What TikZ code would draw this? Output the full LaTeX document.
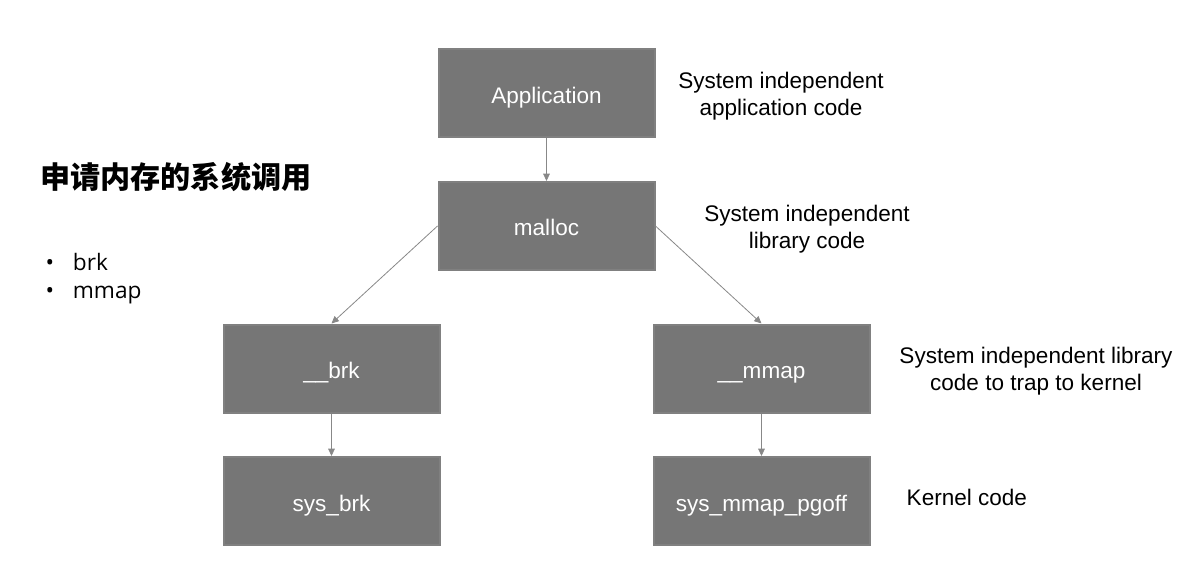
\documentclass[tikz,border=0pt]{standalone}
\usepackage{fontspec}
\setmainfont{Liberation Sans}
\newfontfamily\cjk{Noto Sans CJK SC}
\newfontfamily\listfont{Open Sans}
\usetikzlibrary{arrows.meta}

\definecolor{boxfill}{RGB}{118,118,118}
\definecolor{boxline}{RGB}{128,128,128}
\definecolor{linkgray}{RGB}{136,136,136}

\tikzset{
  callbox/.style={draw=boxline, line width=1.5pt, fill=boxfill, text=white,
    minimum width=162pt, minimum height=66pt, inner sep=0pt,
    text height=15pt, text depth=0pt,
    font=\fontsize{16.9}{20}\selectfont},
  note/.style={align=center, font=\fontsize{16.9}{20.3}\selectfont},
  listitem/.style={anchor=base west, font=\listfont\fontsize{17}{21}\selectfont},
  link/.style={draw=linkgray, line width=0.6pt, -{Triangle[length=5.5pt,width=5pt]}}
}

\begin{document}
\begin{tikzpicture}[x=0.75pt, y=-0.75pt]
      \useasboundingbox (0,0) rectangle (1177,570);

      % Title and list
      \node[anchor=base west, inner sep=0pt, font=\cjk\bfseries\fontsize{22.6}{27}\selectfont] (title) at (40,189) {申请内存的系统调用};
      \node[listitem] (b1) at (41,271) {•\hspace{14pt}brk};
      \node[listitem] (b2) at (41,298) {•\hspace{14pt}mmap};

      % The call boxes
      \node[callbox] (app) at (546.5,93.5) {Application};
      \node[callbox] (malloc) at (546.5,226) {malloc};
      \node[callbox] (brk) at (331.5,368.5) {\_\_brk};
      \node[callbox] (mmap) at (761.5,368.5) {\_\_mmap};
      \node[callbox] (sysbrk) at (331.5,501) {sys\_brk};
      \node[callbox] (sysmmap) at (761.5,501) {sys\_mmap\_pgoff};

      % Arrows between the boxes
      \draw[link] (app) -- (malloc);
      \draw[link] (malloc.west) -- (brk.north);
      \draw[link] (malloc.east) -- (mmap.north);
      \draw[link] (brk) -- (sysbrk);
      \draw[link] (mmap) -- (sysmmap);

      % Notes on the right
      \node[note] (n1) at (781,96) {System independent\\application code};
      \node[note] (n2) at (807,229) {System independent\\library code};
      \node[note] (n3) at (1036,371) {System independent library\\code to trap to kernel};
      \node[note, anchor=west] (n4) at (902,497) {Kernel code};
    \end{tikzpicture}
\end{document}
